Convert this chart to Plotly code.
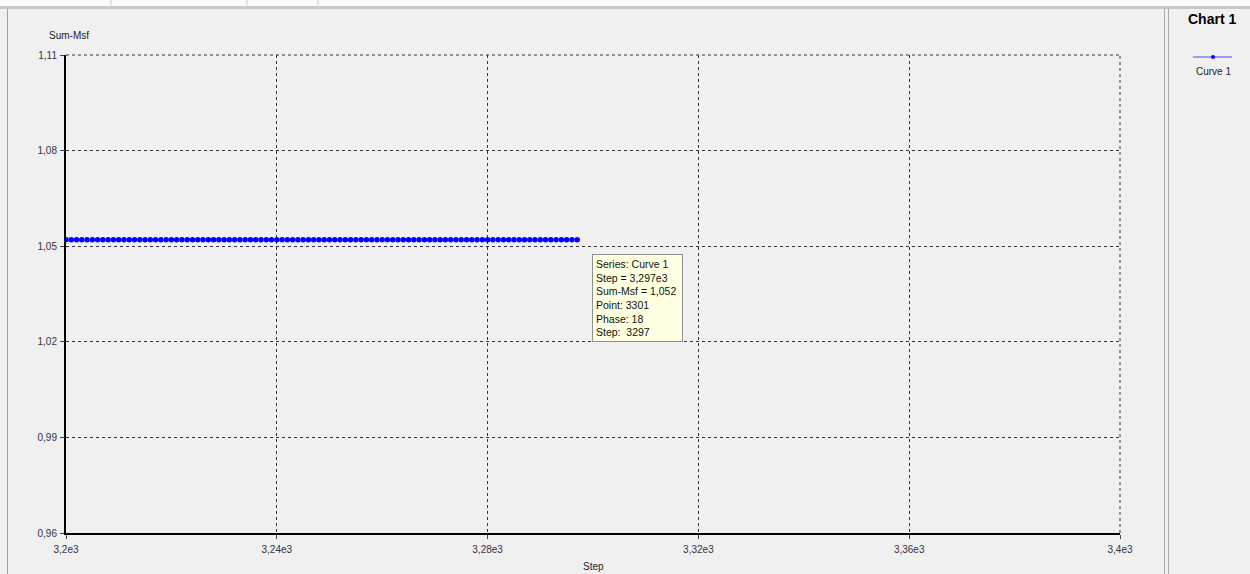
import plotly.graph_objects as go

# ---- data ----
steps = list(range(3200, 3298))
sum_msf = [1.052] * len(steps)

x_tickvals = [3200, 3240, 3280, 3320, 3360, 3400]
x_ticktext = ["3,2e3", "3,24e3", "3,28e3", "3,32e3", "3,36e3", "3,4e3"]
y_tickvals = [0.96, 0.99, 1.02, 1.05, 1.08, 1.11]
y_ticktext = ["0,96", "0,99", "1,02", "1,05", "1,08", "1,11"]

tooltip_lines = ["Series: Curve 1", "Step = 3,297e3", "Sum-Msf = 1,052",
                 "Point: 3301", "Phase: 18", "Step:  3297"]

W, H = 1250, 574
L, R, T, B = 66, 1120, 55, 533


def px(x):
    return (x - L) / (R - L)


def py(y):
    return (B - y) / (B - T)


fig = go.Figure()
fig.add_trace(go.Scatter(
    x=steps, y=sum_msf, mode="markers", name="Curve 1",
    marker=dict(color="#0000ff", size=5.5, symbol="circle", line=dict(width=0)),
    hoverinfo="skip", showlegend=False,
))

font_family = "Liberation Sans, DejaVu Sans, sans-serif"

axis_common = dict(
    showgrid=True, gridcolor="#333333", griddash="3px,3px", gridwidth=1,
    showline=True, linecolor="#000000", linewidth=2,
    ticks="outside", ticklen=4, tickcolor="#444444", tickwidth=1,
    tickfont=dict(family=font_family, size=10, color="#333344"),
    zeroline=False, mirror=False, fixedrange=True,
)

fig.update_xaxes(range=[3200, 3400], tickmode="array", tickvals=x_tickvals,
                 ticktext=x_ticktext, ticklabelstandoff=2, **axis_common)
fig.update_yaxes(range=[0.96, 1.11], tickmode="array", tickvals=y_tickvals,
                 ticktext=y_ticktext, ticklabelstandoff=1, **axis_common)

shapes = []
# top strip of window
shapes.append(dict(type="rect", xref="paper", yref="paper", x0=px(0), x1=px(W),
                   y0=py(0), y1=py(6), fillcolor="#fafafa", line=dict(width=0), layer="below"))
shapes.append(dict(type="rect", xref="paper", yref="paper", x0=px(0), x1=px(W),
                   y0=py(6), y1=py(9), fillcolor="#c8c8c8", line=dict(width=0), layer="below"))
for tx in [111, 247, 318]:
    shapes.append(dict(type="line", xref="paper", yref="paper", x0=px(tx), x1=px(tx),
                       y0=py(0), y1=py(5), line=dict(color="#c8c8c8", width=1)))
# left border
shapes.append(dict(type="line", xref="paper", yref="paper", x0=px(7.5), x1=px(7.5),
                   y0=py(9), y1=py(H), line=dict(color="#a0a0a0", width=1)))
# right panel divider (double line)
for dx in [1164.5, 1168.5]:
    shapes.append(dict(type="line", xref="paper", yref="paper", x0=px(dx), x1=px(dx),
                       y0=py(9), y1=py(H), line=dict(color="#a8a8a8", width=1)))
# top and right dashed borders of plot
shapes.append(dict(type="line", xref="paper", yref="paper", x0=0, x1=1, y0=1, y1=1,
                   line=dict(color="#333333", width=1, dash="3px,3px")))
shapes.append(dict(type="line", xref="paper", yref="paper", x0=1, x1=1, y0=0, y1=1,
                   line=dict(color="#333333", width=1, dash="3px,3px")))
# legend symbol
shapes.append(dict(type="line", xref="paper", yref="paper", x0=px(1193), x1=px(1232),
                   y0=py(57), y1=py(57), line=dict(color="#7f7fff", width=1.5)))
shapes.append(dict(type="circle", xref="paper", yref="paper", x0=px(1211), x1=px(1215),
                   y0=py(55), y1=py(59), fillcolor="#0000ff", line=dict(width=0)))

annotations = [
    dict(text="Sum-Msf", xref="paper", yref="paper", x=px(47), y=py(36),
         xanchor="left", yanchor="middle", showarrow=False,
         font=dict(family=font_family, size=10, color="#222222")),
    dict(text="Step", xref="paper", yref="paper", x=px(593), y=py(566),
         xanchor="center", yanchor="middle", showarrow=False,
         font=dict(family=font_family, size=10, color="#222222")),
    dict(text="<b>Chart 1</b>", xref="paper", yref="paper", x=px(1212), y=py(19),
         xanchor="center", yanchor="middle", showarrow=False,
         font=dict(family=font_family, size=14, color="#000000")),
    dict(text="Curve 1", xref="paper", yref="paper", x=px(1213), y=py(72),
         xanchor="center", yanchor="middle", showarrow=False,
         font=dict(family=font_family, size=10, color="#222222")),
    dict(text="<br>".join(tooltip_lines), xref="paper", yref="paper",
         x=px(592), y=py(254), xanchor="left", yanchor="top", align="left",
         showarrow=False, bgcolor="#ffffe1", bordercolor="#909090", borderwidth=1,
         borderpad=3, width=83,
         font=dict(family=font_family, size=10.5, color="#111111")),
]

fig.update_layout(
    width=W, height=H,
    margin=dict(l=L, r=W - R, t=T, b=H - B, pad=0),
    paper_bgcolor="#f0f0f0", plot_bgcolor="#f0f0f0",
    shapes=shapes, annotations=annotations,
    showlegend=False, separators=",.", hovermode=False,
)

fig.write_html(
    "out.html",
    config={"displayModeBar": False},
    post_script="document.body.style.margin='0';document.body.style.overflow='hidden';",
)
